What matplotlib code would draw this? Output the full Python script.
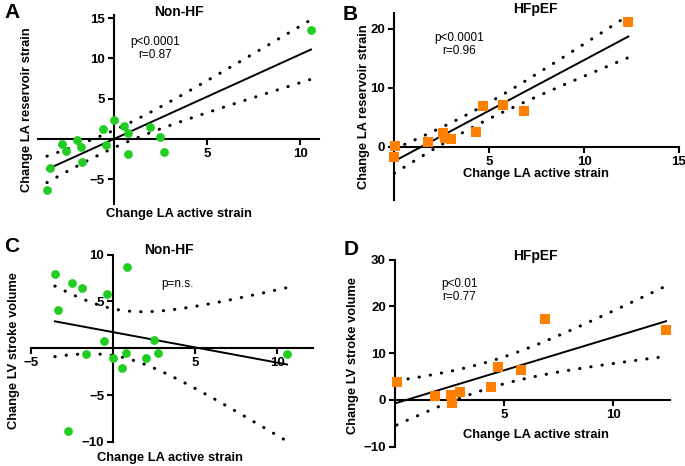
import numpy as np
import matplotlib.pyplot as plt

plt.rcParams['font.family'] = ['Liberation Sans', 'DejaVu Sans']

# panel A: non-HF, LA active vs reservoir strain
a_x = [10.57, 0.0, -0.57, 0.54, 0.77, 1.95, 2.5, -1.96, -2.77, -1.73, -2.54, -0.39, 0.77, 2.7, -1.7, -3.39, -3.57]
a_y = [13.5, 2.39, 1.23, 1.56, 0.74, 1.44, 0.2, -0.16, -0.7, -1.03, -1.52, -0.78, -1.85, -1.6, -2.84, -3.58, -6.34]
# panel B: HFpEF
b_x = [12.33, 4.65, 5.72, 6.81, 4.33, 2.56, 2.67, 2.98, 1.77, 0.05, 0.0]
b_y = [21.2, 6.95, 7.12, 6.1, 2.43, 2.3, 1.5, 1.4, 0.85, 0.17, -1.64]
# panel C: non-HF, LA active strain vs LV stroke volume
c_x = [-3.56, -2.54, -1.93, -3.39, -0.37, 0.81, -0.55, -1.67, 0.0, 0.77, 0.55, 1.97, 2.5, 2.74, 10.6, -2.74]
c_y = [7.89, 6.92, 6.45, 4.05, 5.81, 8.71, 0.79, -0.61, -1.0, -0.47, -2.08, -1.0, 0.9, -0.54, -0.65, -8.78]
# panel D: HFpEF
d_x = [12.42, 6.88, 4.72, 5.78, 4.4, 2.98, 2.55, 2.63, 1.83, 0.08]
d_y = [14.95, 17.3, 6.97, 6.4, 2.7, 1.78, 1.07, -0.57, 0.93, 3.77]

t_crit = [2.131, 2.262, 2.145, 2.306]  # t(0.975, n-2)

green = '#22cc22'
orange = '#ff7f00'

fig = plt.figure(figsize=(6.85, 4.66), dpi=100)
W, H = 685, 466


def make_ax(left, top, right, bottom):
    return fig.add_axes([left / W, 1 - bottom / H, (right - left) / W, (bottom - top) / H])


def fit_plot(ax, x, y, t):
    x = np.array(x)
    y = np.array(y)
    n = len(x)
    slope, icpt = np.polyfit(x, y, 1)
    xs = np.linspace(x.min(), x.max(), 100)
    ys = slope * xs + icpt
    resid = y - (slope * x + icpt)
    s = np.sqrt(np.sum(resid ** 2) / (n - 2))
    se = s * np.sqrt(1 / n + (xs - x.mean()) ** 2 / np.sum((x - x.mean()) ** 2))
    ax.plot(xs, ys, color='black', lw=1.4, zorder=2)
    for band in (ys + t * se, ys - t * se):
        ax.plot(xs, band, color='black', lw=2.2, linestyle=(0, (0.1, 3.6)),
                dash_capstyle='round', zorder=2)


def style(ax, xlim, ylim, xticks, yticks):
    ax.set_xlim(xlim)
    ax.set_ylim(ylim)
    for s in ['top', 'right']:
        ax.spines[s].set_visible(False)
    ax.spines['left'].set_position(('data', 0))
    ax.spines['bottom'].set_position(('data', 0))
    for s in ['left', 'bottom']:
        ax.spines[s].set_linewidth(1.5)
    ax.set_xticks(xticks)
    ax.set_yticks(yticks)
    ax.tick_params(width=1.5, length=4.5, labelsize=9.5, pad=2)
    for lab in ax.get_xticklabels() + ax.get_yticklabels():
        lab.set_fontweight('bold')
    ax.patch.set_alpha(0)


lab_kw = dict(fontsize=9.3, fontweight='bold')
title_kw = dict(fontsize=10, fontweight='bold', pad=0)
note_kw = dict(ha='center', va='center', fontsize=8.5, linespacing=1.1)

# A
axA = make_ax(38, 15, 319, 204)
fit_plot(axA, a_x, a_y, t_crit[0])
axA.scatter(a_x, a_y, s=40, color=green, zorder=3, linewidths=0, clip_on=False)
style(axA, (-4.05, 11), (-8.1, 15.4), [5, 10], [-5, 5, 10, 15])
axA.set_xlabel('Change LA active strain', **lab_kw)
axA.set_ylabel('Change LA reservoir strain', **lab_kw)
axA.xaxis.set_label_coords(0.5, -0.02)
axA.yaxis.set_label_coords(-0.018, 0.5)
axA.set_title('Non-HF', x=0.5, y=0.995, **title_kw)
axA.text(0.416, 0.823, 'p<0.0001\nr=0.87', transform=axA.transAxes, **note_kw)

# B
axB = make_ax(394.3, 12.7, 679, 200)
fit_plot(axB, b_x, b_y, t_crit[1])
axB.scatter(b_x, b_y, s=42, color=orange, marker='s', zorder=3, linewidths=0, clip_on=False)
style(axB, (0, 15), (-9, 22.7), [5, 10, 15], [0, 10, 20])
axB.set_xlabel('Change LA active strain', **lab_kw)
axB.set_ylabel('Change LA reservoir strain', **lab_kw)
axB.xaxis.set_label_coords(0.498, 0.17)
axB.yaxis.set_label_coords(-0.084, 0.5)
axB.set_title('HFpEF', x=0.494, y=1.0, **title_kw)
axB.text(0.227, 0.828, 'p<0.0001\nr=0.96', transform=axB.transAxes, **note_kw)

# C
axC = make_ax(31.3, 254.5, 313.3, 442)
fit_plot(axC, c_x, c_y, t_crit[2])
axC.scatter(c_x, c_y, s=40, color=green, zorder=3, linewidths=0, clip_on=False)
style(axC, (-5, 12.2), (-10, 10), [-5, 5, 10], [-10, -5, 5, 10])
axC.set_xlabel('Change LA active strain', **lab_kw)
axC.set_ylabel('Change LV stroke volume', **lab_kw)
axC.xaxis.set_label_coords(0.493, -0.052)
axC.yaxis.set_label_coords(-0.04, 0.49)
axC.set_title('Non-HF', x=0.488, y=1.0, **title_kw)
axC.text(0.52, 0.843, 'p=n.s.', transform=axC.transAxes, **note_kw)

# D
axD = make_ax(395, 259.5, 670, 446.8)
fit_plot(axD, d_x, d_y, t_crit[3])
axD.scatter(d_x, d_y, s=42, color=orange, marker='s', zorder=3, linewidths=0, clip_on=False)
style(axD, (0, 12.6), (-10, 30), [5, 10], [-10, 0, 10, 20, 30])
axD.set_xlabel('Change LA active strain', **lab_kw)
axD.set_ylabel('Change LV stroke volume', **lab_kw)
axD.xaxis.set_label_coords(0.511, 0.093)
axD.yaxis.set_label_coords(-0.131, 0.49)
axD.set_title('HFpEF', x=0.509, y=0.995, **title_kw)
axD.text(0.233, 0.834, 'p<0.01\nr=0.77', transform=axD.transAxes, **note_kw)

# panel letters
for letter, px, py in [('A', 12, 12), ('B', 350, 14), ('C', 12, 246), ('D', 351, 250)]:
    fig.text(px / W, 1 - py / H, letter, fontsize=15, fontweight='bold', ha='center', va='center')

fig.savefig('out.png', dpi=100)
